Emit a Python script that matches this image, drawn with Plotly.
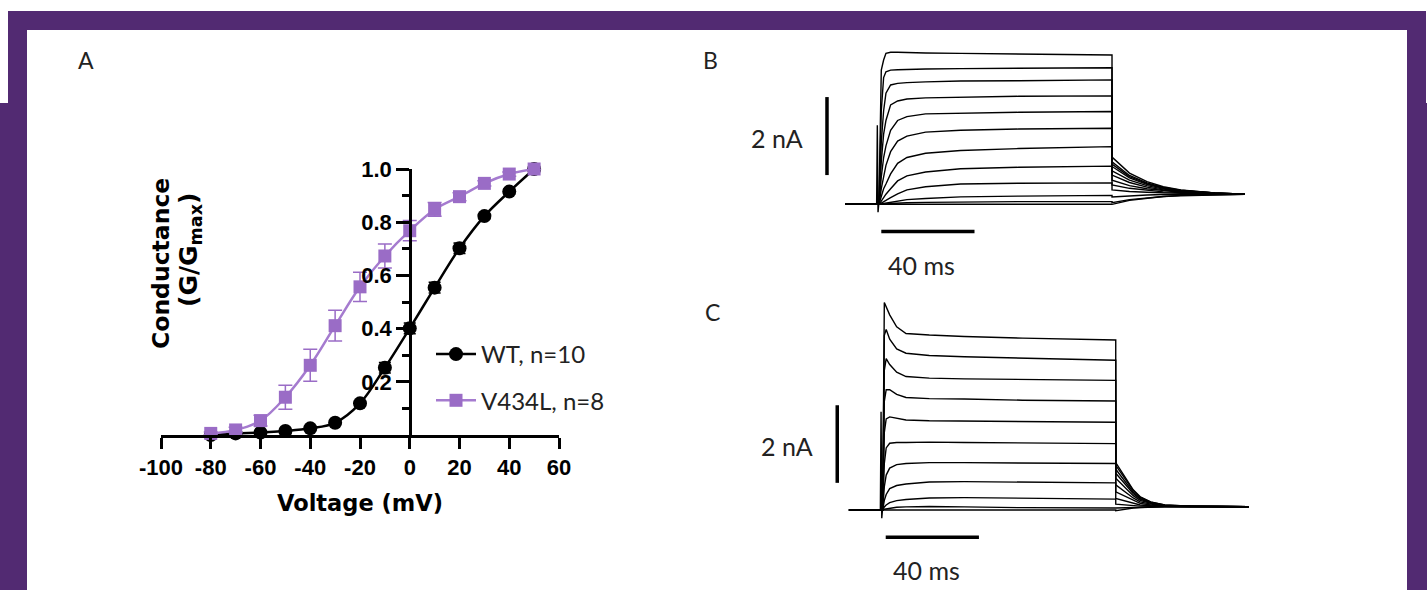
import plotly.graph_objects as go

W, H = 1427, 590

# ---------------- Panel A data ----------------
VOLT = [-80, -70, -60, -50, -40, -30, -20, -10, 0, 10, 20, 30, 40, 50]
WT_G = [0.0, 0.006, 0.009, 0.015, 0.025, 0.046, 0.119, 0.253, 0.401, 0.554, 0.702, 0.823, 0.915, 1.0]
WT_ERR = [0.004, 0.004, 0.004, 0.005, 0.005, 0.006, 0.01, 0.02, 0.02, 0.02, 0.02, 0.01, 0.01, 0.0]
MUT_G = [0.006, 0.019, 0.054, 0.142, 0.262, 0.411, 0.557, 0.673, 0.768, 0.848, 0.896, 0.946, 0.981, 1.0]
MUT_ERR = [0.005, 0.01, 0.02, 0.045, 0.06, 0.058, 0.055, 0.045, 0.038, 0.026, 0.015, 0.01, 0.008, 0.0]
X_TICKS = [-100, -80, -60, -40, -20, 0, 20, 40, 60]
X_TICK_TEXT = ["-100", "-80", "-60", "-40", "-20", "0", "20", "40", "60"]
Y_TICKS = [0.2, 0.4, 0.6, 0.8, 1.0]
Y_TICK_TEXT = ["0.2", "0.4", "0.6", "0.8", "1.0"]
Y_MINOR = [0.1, 0.3, 0.5, 0.7, 0.9]

# ---------------- Panel B traces (ms, nA) ----------------
T_PRE = [-14.5, -1.0]
B_SPIKE_T = [-0.7, -0.4, -0.1]
B_SPIKE_I = [2.03, -0.2, 0.0]
B_T_PULSE = [0, 1, 2, 3, 5, 8, 12, 20, 35, 60, 100]
B_I_PULSE = [
    [0, 3.44, 3.70, 3.87, 3.90, 3.90, 3.89, 3.88, 3.87, 3.85, 3.83],
    [0, 2.40, 3.25, 3.40, 3.44, 3.45, 3.46, 3.47, 3.48, 3.49, 3.50],
    [0, 1.60, 2.40, 2.85, 3.06, 3.10, 3.12, 3.14, 3.16, 3.17, 3.19],
    [0, 1.10, 1.80, 2.15, 2.55, 2.65, 2.70, 2.73, 2.75, 2.77, 2.78],
    [0, 0.70, 1.20, 1.50, 1.90, 2.15, 2.25, 2.32, 2.34, 2.36, 2.38],
    [0, 0.40, 0.75, 1.00, 1.35, 1.62, 1.75, 1.85, 1.90, 1.93, 1.95],
    [0, 0.20, 0.40, 0.52, 0.78, 1.05, 1.20, 1.31, 1.38, 1.43, 1.48],
    [0, 0.08, 0.18, 0.26, 0.40, 0.60, 0.73, 0.83, 0.91, 0.95, 0.98],
    [0, 0.03, 0.07, 0.10, 0.17, 0.27, 0.37, 0.45, 0.52, 0.54, 0.55],
    [0, 0.01, 0.02, 0.03, 0.06, 0.09, 0.12, 0.15, 0.19, 0.21, 0.23],
    [0, 0.00, 0.01, 0.01, 0.02, 0.03, 0.04, 0.05, 0.06, 0.07, 0.07],
    [0, 0.00, 0.00, 0.00, 0.00, 0.00, 0.00, 0.00, 0.00, 0.00, 0.00],
]
B_T_TAIL = [100, 107.5, 115, 122, 129.5, 144, 157]
B_I_TAIL = [
    [1.21, 0.80, 0.58, 0.45, 0.37, 0.29, 0.26],
    [1.09, 0.74, 0.55, 0.43, 0.36, 0.29, 0.26],
    [1.03, 0.71, 0.53, 0.42, 0.35, 0.29, 0.26],
    [0.97, 0.68, 0.51, 0.41, 0.35, 0.29, 0.26],
    [0.86, 0.62, 0.48, 0.39, 0.34, 0.28, 0.26],
    [0.75, 0.56, 0.44, 0.37, 0.33, 0.28, 0.26],
    [0.62, 0.48, 0.40, 0.35, 0.31, 0.28, 0.26],
    [0.50, 0.41, 0.36, 0.32, 0.30, 0.27, 0.26],
    [0.37, 0.33, 0.31, 0.29, 0.28, 0.27, 0.26],
    [0.19, 0.22, 0.24, 0.25, 0.255, 0.26, 0.26],
    [0.04, 0.12, 0.17, 0.20, 0.23, 0.25, 0.26],
    [0.00, 0.10, 0.16, 0.20, 0.22, 0.25, 0.26],
]

# ---------------- Panel C traces (ms, nA) ----------------
C_SPIKE_T = [-0.7, -0.4, -0.1]
C_SPIKE_I = [2.53, -0.21, 0.0]
C_T_PULSE = [0, 0.7, 1.5, 3, 6, 10, 20, 35, 60, 100]
C_I_PULSE = [
    [0, 5.35, 5.25, 5.03, 4.72, 4.55, 4.51, 4.47, 4.43, 4.38],
    [0, 4.50, 4.65, 4.40, 4.15, 4.04, 3.98, 3.95, 3.91, 3.86],
    [0, 3.60, 3.90, 3.75, 3.55, 3.44, 3.40, 3.38, 3.36, 3.34],
    [0, 2.80, 3.10, 3.10, 2.98, 2.90, 2.87, 2.86, 2.83, 2.81],
    [0, 2.00, 2.35, 2.40, 2.36, 2.32, 2.30, 2.29, 2.28, 2.26],
    [0, 1.20, 1.60, 1.72, 1.74, 1.74, 1.75, 1.74, 1.73, 1.71],
    [0, 0.60, 0.90, 1.08, 1.17, 1.20, 1.22, 1.22, 1.21, 1.20],
    [0, 0.25, 0.40, 0.55, 0.63, 0.67, 0.72, 0.73, 0.72, 0.70],
    [0, 0.08, 0.13, 0.19, 0.24, 0.27, 0.31, 0.32, 0.30, 0.28],
    [0, 0.02, 0.03, 0.05, 0.07, 0.08, 0.09, 0.08, 0.06, 0.05],
    [0, 0.00, 0.00, 0.00, 0.00, 0.00, 0.00, 0.00, 0.00, 0.00],
]
C_T_TAIL = [100, 104, 107.5, 110.5, 115, 121, 132, 157]
C_I_TAIL = [
    [1.22, 0.86, 0.52, 0.34, 0.21, 0.13, 0.10, 0.085],
    [1.15, 0.80, 0.50, 0.33, 0.20, 0.13, 0.10, 0.085],
    [1.05, 0.74, 0.46, 0.30, 0.19, 0.12, 0.10, 0.085],
    [0.95, 0.67, 0.42, 0.28, 0.18, 0.12, 0.10, 0.085],
    [0.82, 0.58, 0.37, 0.25, 0.17, 0.12, 0.095, 0.085],
    [0.65, 0.47, 0.31, 0.21, 0.15, 0.11, 0.095, 0.085],
    [0.47, 0.35, 0.24, 0.17, 0.13, 0.10, 0.09, 0.085],
    [0.30, 0.23, 0.17, 0.13, 0.11, 0.095, 0.09, 0.085],
    [0.15, 0.13, 0.11, 0.10, 0.095, 0.09, 0.085, 0.085],
    [0.05, 0.06, 0.07, 0.075, 0.08, 0.085, 0.085, 0.085],
    [-0.02, 0.02, 0.05, 0.06, 0.07, 0.08, 0.085, 0.085],
]

SCALE_I = 2.0   # nA
SCALE_T = 40.0  # ms

# ---------------- styles ----------------
FRAME = "#522a72"
PURPLE = "#9a6cc6"
PURPLE_LINE = "#a57bcf"
BOLD = "DejaVu Sans"
TICKF = "Liberation Sans"
THIN = "Lato"


def fx(px):
    return px / W


def fy(py):
    return 1 - py / H


fig = go.Figure()

# Panel A
fig.add_trace(go.Scatter(
    x=VOLT, y=WT_G, name="WT, n=10", mode="lines+markers",
    line=dict(color="black", width=2.5, shape="spline", smoothing=1.0),
    marker=dict(symbol="circle", size=14, color="black"),
    error_y=dict(type="data", array=WT_ERR, color="black", thickness=1.5, width=6),
    xaxis="x", yaxis="y", cliponaxis=False, legendgroup="wt",
))
fig.add_trace(go.Scatter(
    x=VOLT, y=MUT_G, name="V434L, n=8", mode="lines+markers",
    line=dict(color=PURPLE_LINE, width=2.5, shape="spline", smoothing=1.0),
    marker=dict(symbol="square", size=13, color=PURPLE),
    error_y=dict(type="data", array=MUT_ERR, color=PURPLE, thickness=1.5, width=7),
    xaxis="x", yaxis="y", cliponaxis=False, legendgroup="mut",
))


def add_family(t_pulse, i_pulse, t_tail, i_tail, spike_t, spike_i, xa, ya):
    n = len(i_pulse)
    for k in range(n):
        xs = list(T_PRE)
        ys = [0.0] * len(T_PRE)
        if k == n - 1:
            xs += spike_t
            ys += spike_i
        xs += t_pulse + t_tail
        ys += i_pulse[k] + i_tail[k]
        fig.add_trace(go.Scatter(
            x=xs, y=ys, mode="lines", showlegend=False, hoverinfo="skip",
            line=dict(color="black", width=1.4), xaxis=xa, yaxis=ya,
        ))


add_family(B_T_PULSE, B_I_PULSE, B_T_TAIL, B_I_TAIL, B_SPIKE_T, B_SPIKE_I, "x2", "y2")
add_family(C_T_PULSE, C_I_PULSE, C_T_TAIL, C_I_TAIL, C_SPIKE_T, C_SPIKE_I, "x3", "y3")

tickfont = dict(family=TICKF, size=22, color="black", weight="bold")

layout = dict(
    width=W, height=H, autosize=False,
    margin=dict(l=0, r=0, t=0, b=0, pad=0, autoexpand=False),
    paper_bgcolor="white", plot_bgcolor="rgba(0,0,0,0)",
    showlegend=True,
    legend=dict(
        x=fx(431), y=fy(332), xanchor="left", yanchor="top",
        font=dict(family=THIN, size=24, color="#222"),
        bgcolor="rgba(0,0,0,0)", traceorder="grouped", tracegroupgap=12,
        itemwidth=40,
    ),
    xaxis=dict(
        domain=[fx(161), fx(559)], range=[-100, 60], anchor="y", automargin=False,
        tickvals=X_TICKS, ticktext=X_TICK_TEXT, tickangle=0,
        ticks="outside", ticklen=11, tickwidth=2.5,
        showline=True, linewidth=2.5, linecolor="black", tickcolor="black",
        showgrid=False, zeroline=False, tickfont=tickfont,
    ),
    yaxis=dict(
        domain=[fy(435), fy(169)], range=[0, 1.0], anchor="free", position=fx(410),
        automargin=False,
        tickvals=Y_TICKS, ticktext=Y_TICK_TEXT, ticks="outside", ticklen=13, tickwidth=2.5,
        minor=dict(tickvals=Y_MINOR, ticks="outside", ticklen=7, tickwidth=2.5, tickcolor="black"),
        showline=True, linewidth=2.5, linecolor="black", tickcolor="black",
        showgrid=False, zeroline=False, tickfont=tickfont,
    ),
    xaxis2=dict(domain=[fx(820), fx(1260)], range=[-25.3, 163.5], anchor="y2",
                visible=False, automargin=False),
    yaxis2=dict(domain=[fy(240), fy(45)], range=[-0.915, 4.085], anchor="x2",
                visible=False, automargin=False),
    xaxis3=dict(domain=[fx(820), fx(1260)], range=[-26.9, 161.9], anchor="y3",
                visible=False, automargin=False),
    yaxis3=dict(domain=[fy(550), fy(290)], range=[-1.031, 5.670], anchor="x3",
                visible=False, automargin=False),
)
fig.update_layout(**layout)

shapes = []
# purple frame
for (x0, y0, x1, y1) in [(8, 11, 1420, 30), (8, 11, 27, 103), (0, 103, 27, 590),
                         (1407, 11, 1426, 103), (1407, 103, 1427, 590)]:
    shapes.append(dict(type="rect", xref="paper", yref="paper",
                       x0=fx(x0), x1=fx(x1), y0=fy(y0), y1=fy(y1),
                       fillcolor=FRAME, line=dict(width=0), layer="below"))
# scale bars B
shapes.append(dict(type="line", xref="x2", yref="y2", x0=-22.3, x1=-22.3, y0=0.75, y1=0.75 + SCALE_I,
                   line=dict(color="black", width=3.5)))
shapes.append(dict(type="line", xref="x2", yref="y2", x0=1.0, x1=1.0 + SCALE_T, y0=-0.70, y1=-0.70,
                   line=dict(color="black", width=3.5)))
# scale bars C
shapes.append(dict(type="line", xref="x3", yref="y3", x0=-19.5, x1=-19.5, y0=0.70, y1=0.70 + SCALE_I,
                   line=dict(color="black", width=3.5)))
shapes.append(dict(type="line", xref="x3", yref="y3", x0=1.3, x1=1.3 + SCALE_T, y0=-0.70, y1=-0.70,
                   line=dict(color="black", width=3.5)))
fig.update_layout(shapes=shapes)


def label(text, px, py, font, angle=0):
    return dict(text=text, x=fx(px), y=fy(py), xref="paper", yref="paper",
                xanchor="center", yanchor="middle", showarrow=False, font=font, textangle=angle)


thin = lambda s: dict(family=THIN, size=s, color="#222")
bold = lambda s: dict(family=BOLD, size=s, color="black", weight="bold")

annotations = [
    label("A", 86, 60, thin(23)),
    label("B", 710, 60, thin(23)),
    label("C", 712, 312, thin(23)),
    label("2 nA", 777, 138, thin(25)),
    label("40 ms", 922, 265, thin(25)),
    label("2 nA", 787, 446, thin(25)),
    label("40 ms", 926, 570, thin(25)),
    label("Voltage (mV)", 360, 503, bold(22.5)),
    label("Conductance", 161, 264, bold(23.5), -90),
    label("(G/G<sub>max</sub>)", 190, 250, bold(25), -90),
]
fig.update_layout(annotations=annotations)

fig.write_html(
    "out.html",
    config={"displayModeBar": False},
    post_script="document.body.style.margin='0';document.body.style.overflow='hidden';",
)
